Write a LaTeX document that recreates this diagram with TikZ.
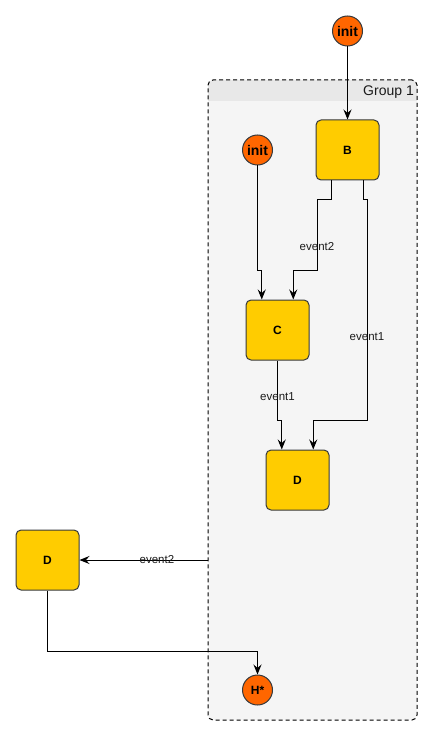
\documentclass[tikz,border=0pt]{standalone}
\usepackage{fontspec}
\setmainfont{Liberation Sans}
\usetikzlibrary{arrows.meta}
\definecolor{boxfill}{HTML}{FFCC00}
\definecolor{boxline}{HTML}{36393D}
\definecolor{initfill}{HTML}{FF6600}
\definecolor{grpfill}{HTML}{F5F5F5}
\definecolor{hdrfill}{HTML}{E8E8E8}
\definecolor{labtext}{HTML}{1A1A1A}
\tikzset{
  statebox/.style={draw=boxline, fill=boxfill, line width=1pt, rounded corners=5pt,
    minimum width=63pt, minimum height=60pt, inner sep=0pt, font=\fontsize{12}{14}\selectfont\bfseries},
  pseudo/.style={circle, draw=boxline, fill=initfill, line width=1pt, minimum size=30pt,
    inner sep=0pt, font=\fontsize{12}{14}\selectfont\bfseries},
  initlab/.style={font=\fontsize{14}{16}\selectfont\bfseries},
  grpbox/.style={draw=black, dash pattern=on 4pt off 3pt, line width=1pt, rounded corners=5pt,
    minimum width=209pt, minimum height=640pt, inner sep=0pt},
  arr/.style={draw=black, line width=1pt, -{Stealth[length=10pt, width=8pt, inset=3.5pt]}},
  elab/.style={text=labtext, font=\fontsize{11.5}{13}\selectfont, inner sep=1pt}
}
\begin{document}
\begin{tikzpicture}[x=1pt, y=-1pt]
\useasboundingbox (0,0) rectangle (432,735);
% group background and header
\fill[grpfill, rounded corners=5pt] (208,80) rectangle (417,720);
\fill[hdrfill] (208,101) {[rounded corners=5pt] -- (208,80) -- (417,80)} -- (417,101) -- cycle;
\node[grpbox] (grp) at (312.5,400) {};
\node[anchor=east, font=\fontsize{14}{16}\selectfont, text=labtext, inner sep=0pt] (glab) at (414,92) {Group 1};
% nodes
\node[pseudo, initlab] (i1) at (347.5,31) {init};
\node[pseudo, initlab] (i2) at (257.5,150) {init};
\node[statebox] (B) at (347.5,150) {B};
\node[statebox] (C) at (277.5,330) {C};
\node[statebox] (D) at (297.5,480) {D};
\node[statebox] (DL) at (47.5,560) {D};
\node[pseudo] (H) at (257.5,690) {H*};
% helper coordinates
\coordinate (ya) at (0,200);
\coordinate (yb) at (0,270);
\coordinate (yc) at (0,420);
\coordinate (yd) at (0,651);
\coordinate (xa) at (317,0);
\coordinate (xb) at (367,0);
% edges
\draw[arr] (i1.south) -- (B.north);
\draw[arr] (i2.south) -- (i2.south |- yb) -| ([xshift=-15.75pt]C.north);
\draw[arr] ([xshift=-15.75pt]B.south) -- ([xshift=-15.75pt]B.south |- ya) -| (xa |- yb)
  node[elab, pos=0.83] {event2} -| ([xshift=15.75pt]C.north);
\draw[arr] ([xshift=15.75pt]B.south) -- ([xshift=15.75pt]B.south |- ya) -| (xb |- yc)
  node[elab, pos=0.81] {event1} -| ([xshift=15.75pt]D.north);
\draw[arr] (C.south) -- node[elab, pos=0.6] {event1} (C.south |- yc) -| ([xshift=-15.75pt]D.north);
\draw[arr] (grp.west |- DL.east) -- node[elab, pos=0.395] {event2} (DL.east);
\draw[arr] (DL.south) -- (DL.south |- yd) -| (H.north);
\end{tikzpicture}
\end{document}
